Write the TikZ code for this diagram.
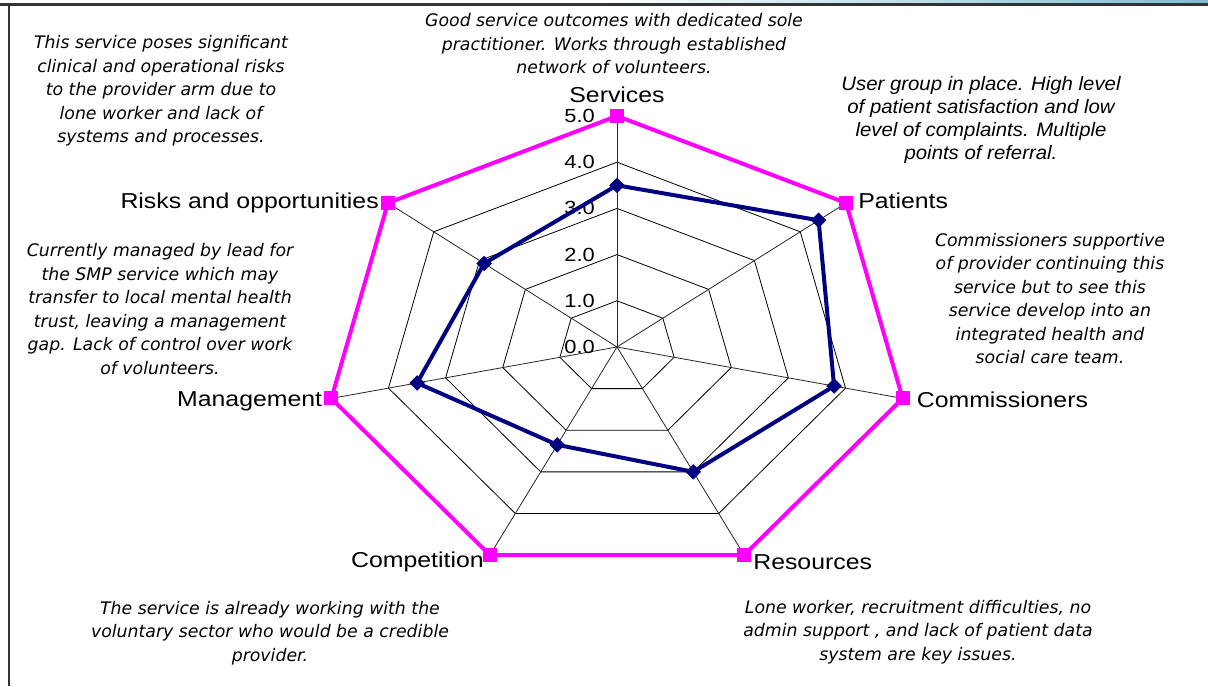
\documentclass[tikz,border=0pt]{standalone}
\usepackage{fontspec}
\setmainfont{Liberation Sans}
\newfontfamily\axisfont[FakeStretch=1.15]{Liberation Sans}
\newfontfamily\notefont{DejaVu Sans}
\newfontfamily\arialnote[FakeStretch=1.05]{Liberation Sans}
\usetikzlibrary{positioning}

\definecolor{chartpink}{RGB}{255,0,255}
\definecolor{chartnavy}{RGB}{0,0,128}
\definecolor{framegray}{RGB}{51,51,51}
\definecolor{stripblue}{RGB}{125,190,210}

\tikzset{
  gridline/.style={black, line width=0.8pt},
  spoke/.style={black!85, line width=0.8pt},
  maxline/.style={chartpink, line width=4pt, line join=miter},
  scoreline/.style={chartnavy, line width=4pt, line join=round},
  maxmark/.style={rectangle, fill=chartpink, minimum size=14pt, inner sep=0pt},
  scoremark/.style={rectangle, rotate=45, fill=chartnavy, minimum size=11pt, inner sep=0pt},
  axislabel/.style={font=\axisfont\fontsize{21.6}{24}\selectfont, inner sep=0pt},
  ticklabel/.style={font=\axisfont\fontsize{19}{22}\selectfont, inner sep=0pt, anchor=east},
  note/.style={font=\notefont\itshape\fontsize{17.3}{23.5}\selectfont, align=center, inner sep=0pt},
  arialnotestyle/.style={font=\arialnote\itshape\fontsize{19.4}{23.3}\selectfont, align=center, inner sep=0pt},
}

\begin{document}
\begin{tikzpicture}[x=1pt,y=1pt]
  \useasboundingbox (0,0) rectangle (1208,686);

  % Frame at the top and the left
  \shade[left color=white, right color=stripblue] (600,683) rectangle (1208,686);
  \draw[framegray, line width=3pt] (0,681.5) -- (1208,681.5);
  \draw[framegray, line width=2pt] (9,0) -- (9,681.5);

  % Radar chart, seven axes, scale 0 to 5
  \begin{scope}[shift={(617,339)}, x=58.6pt, y=46.2pt]
    \coordinate (hub) at (0,0);
    \foreach \i in {1,...,7} {
      \pgfmathsetmacro\ang{90-(\i-1)*360/7}
      \coordinate (axis\i) at (\ang:5);
    }

    % Rings and spokes
    \foreach \k in {1,...,5}
      \draw[gridline] (90:\k) \foreach \i in {1,...,6} { -- (90-\i*360/7:\k) } -- cycle;
    \foreach \i in {1,...,7}
      \draw[spoke] (hub) -- (axis\i);

    % Scale labels
    \foreach \k in {0,...,5}
      \node[ticklabel, xshift=-22pt] (tick\k) at (0,\k) {\k.0};

    % Scores
    \def\scores{3.5,4.4,3.8,3.0,2.35,3.5,2.9}
    \foreach \v [count=\i] in \scores {
      \pgfmathsetmacro\ang{90-(\i-1)*360/7}
      \coordinate (score\i) at (\ang:\v);
    }

    % Maximum and score polygons
    \draw[maxline] (axis1) \foreach \i in {2,...,7} { -- (axis\i) } -- cycle;
    \draw[scoreline] (score1) \foreach \i in {2,...,7} { -- (score\i) } -- cycle;
    \foreach \i in {1,...,7} {
      \node[maxmark] at (axis\i) {};
      \node[scoremark] at (score\i) {};
    }

    % Axis labels
    \node[axislabel, above=13pt of axis1] (services) {Services};
    \node[axislabel, right=12pt of axis2, yshift=2pt] (patients) {Patients};
    \node[axislabel, right=14pt of axis3, yshift=-1pt] (commissioners) {Commissioners};
    \node[axislabel, right=9pt of axis4, yshift=-7pt] (resources) {Resources};
    \node[axislabel, left=6pt of axis5, yshift=-7pt] (competition) {Competition};
    \node[axislabel, left=9pt of axis6, yshift=-3pt] (management) {Management};
    \node[axislabel, left=9pt of axis7] (risks) {Risks and opportunities};
  \end{scope}

  % Comments on each axis
  \node[note] (servicesnote) at (614,642) {Good service outcomes with dedicated sole\\practitioner.  Works through established\\network of volunteers.};
  \node[note] (risksnote) at (161,595) {This service poses significant\\clinical and operational risks\\to the provider arm due to\\lone worker and lack of\\systems and processes.};
  \node[arialnotestyle] (patientsnote) at (981,566) {User group in place.  High level\\of patient satisfaction and low\\level of complaints.  Multiple\\points of referral.};
  \node[note] (commissionersnote) at (1050,387.5) {Commissioners supportive\\of provider continuing this\\service but to see this\\service develop into an\\integrated health and\\social care team.};
  \node[note] (managementnote) at (160,377) {Currently managed by lead for\\the SMP service which may\\transfer to local mental health\\trust, leaving a management\\gap.  Lack of control over work\\of volunteers.};
  \node[note] (competitionnote) at (270,53) {The service is already working with the\\voluntary sector who would be a credible\\provider.};
  \node[note] (resourcesnote) at (918,54) {Lone worker, recruitment difficulties, no\\admin support , and lack of patient data\\system are key issues.};
\end{tikzpicture}
\end{document}
